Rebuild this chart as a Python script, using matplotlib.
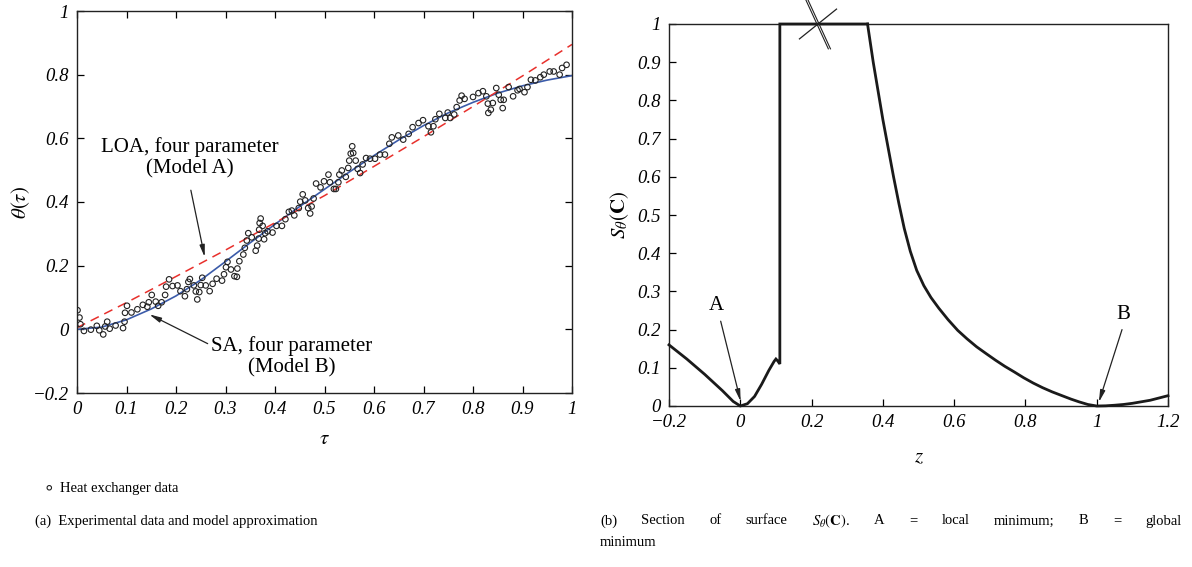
import matplotlib
matplotlib.use("Agg")
import matplotlib.pyplot as plt
import numpy as np

plt.rcParams['font.family'] = ['Liberation Serif', 'DejaVu Serif']
plt.rcParams['mathtext.fontset'] = 'stix'

# (a) heat exchanger data
tau_data = [0.001, 0.005, 0.007, 0.014, 0.028, 0.04, 0.045, 0.053, 0.057, 0.061,
            0.066, 0.078, 0.093, 0.096, 0.097, 0.101, 0.11, 0.122, 0.133, 0.142,
            0.145, 0.151, 0.159, 0.164, 0.171, 0.178, 0.18, 0.186, 0.193, 0.203,
            0.209, 0.218, 0.222, 0.225, 0.228, 0.236, 0.24, 0.243, 0.247, 0.25,
            0.253, 0.26, 0.268, 0.274, 0.282, 0.293, 0.297, 0.301, 0.304, 0.311,
            0.318, 0.323, 0.324, 0.328, 0.336, 0.339, 0.343, 0.346, 0.353, 0.361,
            0.364, 0.367, 0.368, 0.369, 0.371, 0.375, 0.378, 0.38, 0.385, 0.395,
            0.403, 0.414, 0.421, 0.428, 0.434, 0.439, 0.448, 0.451, 0.456, 0.461,
            0.467, 0.471, 0.474, 0.478, 0.483, 0.492, 0.499, 0.508, 0.511, 0.519,
            0.523, 0.528, 0.53, 0.535, 0.543, 0.548, 0.55, 0.553, 0.556, 0.558,
            0.563, 0.567, 0.572, 0.577, 0.584, 0.592, 0.602, 0.612, 0.622, 0.631,
            0.636, 0.649, 0.659, 0.67, 0.678, 0.69, 0.699, 0.71, 0.715, 0.72,
            0.724, 0.732, 0.744, 0.749, 0.754, 0.762, 0.767, 0.773, 0.777, 0.783,
            0.8, 0.811, 0.82, 0.827, 0.83, 0.831, 0.836, 0.84, 0.847, 0.852,
            0.856, 0.86, 0.862, 0.872, 0.881, 0.89, 0.894, 0.904, 0.91, 0.917,
            0.926, 0.936, 0.943, 0.955, 0.963, 0.975, 0.98, 0.989]
theta_data = [0.06, 0.037, 0.016, -0.005, -0.001, 0.011, -0.003, -0.016, 0.009, 0.024,
              0.002, 0.012, 0.004, 0.024, 0.052, 0.074, 0.053, 0.063, 0.077, 0.071,
              0.085, 0.108, 0.087, 0.074, 0.085, 0.108, 0.134, 0.157, 0.136, 0.138,
              0.12, 0.104, 0.126, 0.149, 0.158, 0.138, 0.119, 0.094, 0.117, 0.139,
              0.162, 0.138, 0.12, 0.143, 0.159, 0.153, 0.173, 0.195, 0.212, 0.188,
              0.167, 0.165, 0.191, 0.214, 0.235, 0.256, 0.279, 0.302, 0.289, 0.247,
              0.263, 0.285, 0.313, 0.334, 0.348, 0.325, 0.283, 0.302, 0.308, 0.304,
              0.325, 0.325, 0.346, 0.369, 0.373, 0.358, 0.381, 0.401, 0.424, 0.405,
              0.381, 0.364, 0.386, 0.411, 0.458, 0.446, 0.465, 0.486, 0.462, 0.441,
              0.441, 0.462, 0.486, 0.499, 0.479, 0.507, 0.53, 0.552, 0.575, 0.554,
              0.53, 0.504, 0.491, 0.518, 0.538, 0.536, 0.536, 0.549, 0.549, 0.583,
              0.603, 0.609, 0.596, 0.614, 0.635, 0.648, 0.657, 0.638, 0.619, 0.638,
              0.66, 0.677, 0.664, 0.681, 0.664, 0.675, 0.698, 0.719, 0.734, 0.724,
              0.73, 0.742, 0.748, 0.732, 0.709, 0.68, 0.69, 0.711, 0.758, 0.737,
              0.721, 0.695, 0.721, 0.761, 0.732, 0.751, 0.755, 0.745, 0.761, 0.784,
              0.782, 0.792, 0.8, 0.81, 0.81, 0.8, 0.821, 0.831]

# model B (SA, solid blue)
tau_b = [0, 0.05, 0.1, 0.15, 0.2, 0.25, 0.3, 0.35, 0.4, 0.45, 0.5,
         0.55, 0.6, 0.65, 0.7, 0.75, 0.8, 0.85, 0.9, 0.95, 1.0]
theta_b = [0.0, 0.007, 0.03, 0.064, 0.105, 0.155, 0.213, 0.272, 0.33, 0.386, 0.44,
           0.494, 0.546, 0.595, 0.64, 0.68, 0.713, 0.742, 0.765, 0.783, 0.797]

# model A (LOA, dashed red)
tau_a = [0, 0.1, 0.2, 0.3, 0.4, 0.5, 0.6, 0.7, 0.8, 0.9, 1.0]
theta_a = [0.005, 0.084, 0.166, 0.249, 0.335, 0.42, 0.512, 0.605, 0.7, 0.796, 0.895]

# (b) section of surface S_theta(C)
z_left = [-0.2, -0.15, -0.1, -0.05, -0.02, 0.0, 0.02, 0.04, 0.06, 0.08, 0.095,
          0.1, 0.105, 0.111, 0.111, 0.357]
s_left = [0.16, 0.123, 0.083, 0.04, 0.012, 0.0, 0.006, 0.025, 0.057, 0.093, 0.117,
          0.123, 0.118, 0.11, 1.0, 1.0]
z_right = [0.357, 0.365, 0.373, 0.382, 0.391, 0.40, 0.41, 0.42, 0.43, 0.445,
           0.46, 0.477, 0.495, 0.515, 0.535, 0.557, 0.583, 0.61, 0.636, 0.663,
           0.69, 0.716, 0.742, 0.769, 0.795, 0.822, 0.848, 0.875, 0.9, 0.928,
           0.95, 0.975, 1.0, 1.025, 1.05, 1.075, 1.1, 1.125, 1.15, 1.175, 1.2]
s_right = [1.0, 0.95, 0.9, 0.85, 0.8, 0.75, 0.7, 0.65, 0.6, 0.53,
           0.465, 0.405, 0.355, 0.315, 0.284, 0.256, 0.226, 0.198, 0.176, 0.155,
           0.137, 0.12, 0.104, 0.089, 0.074, 0.06, 0.048, 0.037, 0.028, 0.018,
           0.011, 0.004, 0.0, 0.0005, 0.002, 0.004, 0.007, 0.011, 0.015, 0.021, 0.027]

xt_a = [0, 0.1, 0.2, 0.3, 0.4, 0.5, 0.6, 0.7, 0.8, 0.9, 1]
xt_a_lab = ['0', '0.1', '0.2', '0.3', '0.4', '0.5', '0.6', '0.7', '0.8', '0.9', '1']
yt_a = [-0.2, 0, 0.2, 0.4, 0.6, 0.8, 1]
yt_a_lab = ['\u22120.2', '0', '0.2', '0.4', '0.6', '0.8', '1']
xt_b = [-0.2, 0, 0.2, 0.4, 0.6, 0.8, 1, 1.2]
xt_b_lab = ['\u22120.2', '0', '0.2', '0.4', '0.6', '0.8', '1', '1.2']
yt_b = [0, 0.1, 0.2, 0.3, 0.4, 0.5, 0.6, 0.7, 0.8, 0.9, 1]
yt_b_lab = ['0', '0.1', '0.2', '0.3', '0.4', '0.5', '0.6', '0.7', '0.8', '0.9', '1']

caption_a = '(a)  Experimental data and model approximation'
caption_b_words = ['(b)', 'Section', 'of', 'surface', r'$S_\theta(\mathbf{C})$.', 'A', '=',
                   'local', 'minimum;', 'B', '=', 'global']
caption_b_end = 'minimum'

W, H = 1192, 567
fig = plt.figure(figsize=(W / 100, H / 100), dpi=100)
ax1 = fig.add_axes([77 / W, 1 - 393 / H, 495 / W, 382 / H])
ax2 = fig.add_axes([669 / W, 1 - 406 / H, 499 / W, 382 / H])

tick_fs = 13.5
cap_fs = 10.5
arrow = dict(arrowstyle='-|>,head_width=0.15,head_length=0.7', color='#222222',
             lw=0.9, shrinkA=0, shrinkB=0)

# ---- left panel
pts = ax1.scatter(tau_data, theta_data, s=16, facecolors='none', edgecolors='#222222',
                  linewidths=0.8, zorder=3, label='Heat exchanger data')
ax1.plot(tau_b, theta_b, color='#3b5ba9', lw=1.2, zorder=2)
ax1.plot(tau_a, theta_a, color='#e8302c', lw=1.1, ls=(0, (6, 4)), zorder=2)
ax1.set_xlim(0, 1)
ax1.set_ylim(-0.2, 1)
ax1.set_xticks(xt_a)
ax1.set_xticklabels(xt_a_lab, fontstyle='italic', fontsize=tick_fs)
ax1.set_yticks(yt_a)
ax1.set_yticklabels(yt_a_lab, fontstyle='italic', fontsize=tick_fs)
ax1.tick_params(direction='in', top=True, right=True, length=5, width=0.9, pad=6)
ax1.set_xlabel(r'$\tau$', fontsize=15)
ax1.set_ylabel(r'$\theta(\tau)$', fontsize=15)
ax1.xaxis.set_label_coords(0.5, -(440 - 393) / 382, transform=ax1.transAxes)
ax1.yaxis.set_label_coords((21 - 77) / 495, 0.5, transform=ax1.transAxes)
ax1.xaxis.label.set_va('center')
ax1.yaxis.label.set_va('center')

ax1.annotate('', xy=(0.258, 0.227), xytext=(0.23, 0.437), arrowprops=arrow)
ax1.text(0.227, 0.538, 'LOA, four parameter\n(Model A)', ha='center', va='center',
         fontsize=15, linespacing=1.15)
ax1.annotate('', xy=(0.146, 0.047), xytext=(0.264, -0.045), arrowprops=arrow)
ax1.text(0.434, -0.085, 'SA, four parameter\n(Model B)', ha='center', va='center',
         fontsize=15, linespacing=1.15)

for sp in ax1.spines.values():
    sp.set_linewidth(1.0)
    sp.set_color('#222222')

fig.legend(handles=[pts], labels=['Heat exchanger data'], loc='center left',
           bbox_to_anchor=(42 / W, 1 - 488 / H), frameon=False, fontsize=cap_fs,
           handletextpad=0.2, handlelength=1.0, borderaxespad=0, borderpad=0,
           markerscale=0.8)

# ---- right panel
ax2.plot(z_left, s_left, color='#1a1a1a', lw=2.0, clip_on=False, zorder=3,
         solid_joinstyle='miter')
ax2.plot(z_right, s_right, color='#1a1a1a', lw=2.0, clip_on=False, zorder=3)
ax2.set_xlim(-0.2, 1.2)
ax2.set_ylim(0, 1)
ax2.set_xticks(xt_b)
ax2.set_xticklabels(xt_b_lab, fontstyle='italic', fontsize=tick_fs)
ax2.set_yticks(yt_b)
ax2.set_yticklabels(yt_b_lab, fontstyle='italic', fontsize=tick_fs)
ax2.tick_params(direction='in', length=5, width=0.9, pad=6)
ax2.set_xlabel(r'$z$', fontsize=15)
ax2.set_ylabel(r'$S_\theta(\mathbf{C})$', fontsize=15)
ax2.xaxis.set_label_coords(0.5, -(458 - 406) / 382, transform=ax2.transAxes)
ax2.yaxis.set_label_coords((620 - 669) / 499, 0.5, transform=ax2.transAxes)
ax2.xaxis.label.set_va('center')
ax2.yaxis.label.set_va('center')
for sp in ax2.spines.values():
    sp.set_linewidth(1.0)
    sp.set_color('#222222')

# axis break mark on the flat top
bz, bs = 0.218, 1.0
ax2.plot([bz - 0.052, bz + 0.052], [bs - 0.039, bs + 0.039], color='#222222',
         lw=0.9, clip_on=False, zorder=5)
for off in (-0.003, 0.003):
    ax2.plot([bz - 0.032 + off, bz + 0.032 + off], [bs + 0.065, bs - 0.065],
             color='#222222', lw=0.8, clip_on=False, zorder=5)

ax2.annotate('', xy=(0.001, 0.012), xytext=(-0.055, 0.222), arrowprops=arrow)
ax2.text(-0.068, 0.262, 'A', ha='center', va='center', fontsize=15)
ax2.annotate('', xy=(1.006, 0.01), xytext=(1.071, 0.2), arrowprops=arrow)
ax2.text(1.074, 0.24, 'B', ha='center', va='center', fontsize=15)

# captions
fig.text(35 / W, 1 - 521 / H, caption_a, fontsize=cap_fs, va='center', ha='left')

# justified first line of caption (b) between x=600 and x=1182
renderer = fig.canvas.get_renderer()
words = [fig.text(0, 1 - 521 / H, w, fontsize=cap_fs, va='center', ha='left')
         for w in caption_b_words]
widths = [t.get_window_extent(renderer).width for t in words]
gap = (1182 - 600 - sum(widths)) / (len(words) - 1)
x = 600.0
for t, w in zip(words, widths):
    t.set_x(x / W)
    x += w + gap
fig.text(600 / W, 1 - 543 / H, caption_b_end, fontsize=cap_fs, va='center', ha='left')

fig.savefig('out.png', dpi=100)
